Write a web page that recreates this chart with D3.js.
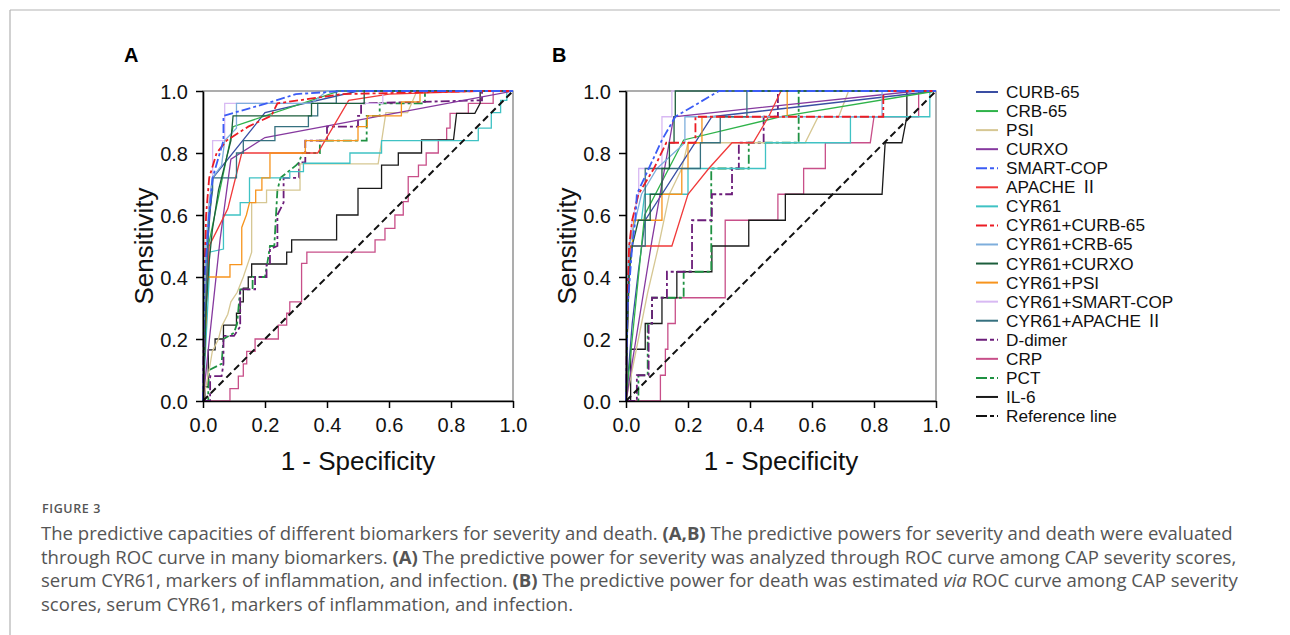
<!DOCTYPE html>
<html><head><meta charset="utf-8">
<script src="https://cdn.jsdelivr.net/npm/d3@7"></script>
<style>
html,body{margin:0;padding:0;background:#fff;}
svg{display:block;}
</style></head>
<body>
<svg id="chart" width="1290" height="635"></svg>
<script>
// ---------------- DATA ----------------
const seriesNames = ["CURB-65","CRB-65","PSI","CURXO","SMART-COP","APACHE Ⅱ","CYR61","CYR61+CURB-65","CYR61+CRB-65","CYR61+CURXO","CYR61+PSI","CYR61+SMART-COP","CYR61+APACHE Ⅱ","D-dimer","CRP","PCT","IL-6"];
const legendNames = seriesNames.concat(["Reference line"]);
const tickValues = [0.0,0.2,0.4,0.6,0.8,1.0];
const panelLabels = ["A","B"];
const axisTitleX = "1 - Specificity";
const axisTitleY = "Sensitivity";
const referenceLine = [[0,0],[1,1]];

// Panel A (severity)  [1-specificity, sensitivity]
const A_CURB65 = [[0,0],[0.01,0.45],[0.032,0.72],[0.2,0.93],[0.5,1],[1,1]];
const A_CRB65 = [[0,0],[0.017,0.5],[0.097,0.885],[0.44,1],[1,1]];
const A_PSI = [[0,0],[0.02,0.1],[0.03,0.16],[0.05,0.2],[0.06,0.24],[0.08,0.28],[0.09,0.32],[0.11,0.35],[0.13,0.4],[0.157,0.48],[0.157,0.64],[0.205,0.64],[0.205,0.68],[0.313,0.68],[0.313,0.765],[0.565,0.765],[0.59,0.93],[0.66,0.93],[0.69,1],[1,1]];
const A_CURXO = [[0,0],[0.017,0.165],[0.055,0.52],[0.09,0.78],[0.2,0.85],[1,1]];
const A_SMARTCOP = [[0,0],[0.005,0.4],[0.02,0.6],[0.031,0.72],[0.066,0.84],[0.066,0.92],[0.205,0.96],[0.3,0.99],[0.45,1],[1,1]];
const A_APACHE = [[0,0],[0.01,0.3],[0.02,0.5],[0.05,0.56],[0.08,0.62],[0.1,0.7],[0.125,0.8],[0.37,0.8],[0.47,0.97],[0.6,0.99],[0.9,1],[1,1]];
const A_CYR61 = [[0,0],[0.005,0.1],[0.01,0.2],[0.015,0.3],[0.02,0.4],[0.02,0.48],[0.066,0.49],[0.066,0.6],[0.12,0.6],[0.12,0.64],[0.15,0.64],[0.15,0.72],[0.28,0.72],[0.28,0.74],[0.324,0.74],[0.324,0.767],[0.474,0.767],[0.474,0.8],[0.576,0.8],[0.576,0.84],[0.888,0.84],[0.888,0.88],[0.93,0.88],[0.93,0.93],[0.96,0.93],[0.96,0.97],[0.98,0.97],[0.98,1],[1,1]];
const A_CYR61_CURB65 = [[0,0],[0.005,0.4],[0.01,0.6],[0.02,0.72],[0.044,0.8],[0.076,0.84],[0.146,0.885],[0.22,0.92],[0.24,0.96],[0.45,0.99],[0.9,1],[1,1]];
const A_CYR61_CRB65 = [[0,0],[0.005,0.3],[0.01,0.5],[0.02,0.64],[0.03,0.72],[0.06,0.76],[0.07,0.84],[0.108,0.88],[0.108,0.96],[0.35,0.96],[0.4,1],[1,1]];
const A_CYR61_CURXO = [[0,0],[0.005,0.15],[0.01,0.3],[0.02,0.45],[0.03,0.55],[0.05,0.68],[0.07,0.76],[0.09,0.84],[0.097,0.92],[0.35,0.92],[0.35,0.96],[0.52,0.96],[0.52,1],[1,1]];
const A_CYR61_PSI = [[0,0],[0.005,0.2],[0.01,0.27],[0.01,0.4],[0.087,0.4],[0.087,0.44],[0.125,0.44],[0.125,0.56],[0.14,0.6],[0.15,0.64],[0.17,0.64],[0.17,0.68],[0.19,0.68],[0.19,0.72],[0.216,0.72],[0.216,0.8],[0.33,0.8],[0.33,0.84],[0.5,0.84],[0.5,0.885],[0.53,0.885],[0.53,0.92],[0.64,0.92],[0.64,0.965],[0.7,0.965],[0.7,1],[1,1]];
const A_CYR61_SMARTCOP = [[0,0],[0.005,0.3],[0.01,0.5],[0.02,0.64],[0.031,0.72],[0.031,0.84],[0.07,0.84],[0.07,0.96],[0.58,0.96],[0.58,1],[1,1]];
const A_CYR61_APACHE = [[0,0],[0.005,0.15],[0.01,0.35],[0.02,0.6],[0.031,0.68],[0.031,0.72],[0.108,0.72],[0.108,0.8],[0.13,0.8],[0.13,0.84],[0.232,0.84],[0.232,0.885],[0.34,0.885],[0.34,0.92],[0.37,0.92],[0.37,0.96],[0.43,0.96],[0.43,1],[1,1]];
const A_DDIMER = [[0,0],[0.023,0],[0.023,0.08],[0.06,0.08],[0.066,0.12],[0.066,0.21],[0.1,0.21],[0.12,0.24],[0.12,0.36],[0.168,0.36],[0.168,0.4],[0.205,0.4],[0.205,0.44],[0.216,0.44],[0.216,0.49],[0.24,0.5],[0.24,0.6],[0.26,0.64],[0.26,0.72],[0.31,0.72],[0.31,0.77],[0.33,0.77],[0.33,0.84],[0.4,0.84],[0.4,0.885],[0.5,0.885],[0.5,0.92],[0.51,0.92],[0.51,0.96],[0.9,0.97],[0.9,1],[1,1]];
const A_CRP = [[0,0],[0.087,0],[0.087,0.04],[0.114,0.04],[0.114,0.08],[0.13,0.08],[0.13,0.12],[0.141,0.12],[0.141,0.16],[0.168,0.16],[0.168,0.2],[0.243,0.2],[0.243,0.245],[0.27,0.245],[0.27,0.283],[0.28,0.283],[0.28,0.32],[0.318,0.32],[0.318,0.444],[0.335,0.444],[0.335,0.48],[0.555,0.48],[0.555,0.52],[0.587,0.52],[0.587,0.557],[0.619,0.557],[0.619,0.6],[0.646,0.6],[0.646,0.643],[0.662,0.643],[0.662,0.724],[0.695,0.724],[0.695,0.761],[0.72,0.761],[0.72,0.8],[0.759,0.8],[0.759,0.842],[0.786,0.842],[0.786,0.88],[0.797,0.88],[0.797,0.928],[0.856,0.928],[0.856,0.96],[0.936,0.96],[0.936,1],[1,1]];
const A_PCT = [[0,0],[0.017,0],[0.017,0.04],[0.02,0.1],[0.06,0.12],[0.066,0.2],[0.1,0.22],[0.11,0.25],[0.12,0.36],[0.16,0.36],[0.16,0.4],[0.2,0.4],[0.21,0.46],[0.216,0.5],[0.23,0.5],[0.24,0.68],[0.25,0.72],[0.3,0.76],[0.31,0.77],[0.32,0.8],[0.377,0.8],[0.377,0.84],[0.528,0.84],[0.528,0.92],[0.57,0.92],[0.57,0.96],[0.716,0.96],[0.716,1],[1,1]];
const A_IL6 = [[0,0],[0.006,0],[0.006,0.046],[0.017,0.046],[0.017,0.165],[0.039,0.165],[0.039,0.2],[0.066,0.2],[0.066,0.245],[0.108,0.245],[0.108,0.283],[0.12,0.283],[0.12,0.32],[0.13,0.32],[0.13,0.364],[0.146,0.364],[0.146,0.4],[0.157,0.4],[0.157,0.442],[0.27,0.442],[0.27,0.48],[0.286,0.48],[0.286,0.52],[0.431,0.52],[0.431,0.6],[0.5,0.6],[0.5,0.686],[0.576,0.686],[0.576,0.761],[0.63,0.761],[0.63,0.8],[0.705,0.8],[0.705,0.842],[0.808,0.842],[0.818,0.928],[0.877,0.928],[0.894,0.96],[0.894,1],[1,1]];

// Panel B (death)
const B_CURB65 = [[0,0],[0.02,0.25],[0.04,0.42],[0.062,0.583],[0.277,0.917],[1,1]];
const B_CRB65 = [[0,0],[0.03,0.3],[0.06,0.6],[0.186,0.842],[0.5,0.917],[1,1]];
const B_PSI = [[0,0],[0.03,0.15],[0.07,0.35],[0.105,0.5],[0.14,0.667],[0.18,0.75],[0.2,0.833],[0.578,0.833],[0.62,0.917],[0.686,0.917],[0.718,1],[1,1]];
const B_CURXO = [[0,0],[0.084,0.52],[0.154,0.917],[0.94,1],[1,1]];
const B_SMARTCOP = [[0,0],[0.005,0.3],[0.02,0.5],[0.03,0.583],[0.035,0.667],[0.116,0.842],[0.159,0.917],[0.3,1],[1,1]];
const B_APACHE = [[0,0],[0.005,0.25],[0.014,0.5],[0.148,0.5],[0.2,0.667],[0.267,0.75],[0.342,0.833],[0.41,0.833],[0.46,0.917],[0.5,1],[1,1]];
const B_CYR61 = [[0,0],[0.005,0.25],[0.01,0.5],[0.03,0.583],[0.05,0.583],[0.06,0.667],[0.2,0.667],[0.2,0.75],[0.45,0.75],[0.45,0.833],[0.724,0.833],[0.724,0.917],[0.98,0.917],[0.98,1],[1,1]];
const B_CYR61_CURB65 = [[0,0],[0.005,0.33],[0.01,0.5],[0.02,0.583],[0.04,0.667],[0.09,0.75],[0.13,0.833],[0.224,0.833],[0.224,0.917],[0.83,0.917],[0.83,1],[1,1]];
const B_CYR61_CRB65 = [[0,0],[0.005,0.3],[0.01,0.5],[0.03,0.583],[0.05,0.667],[0.1,0.75],[0.19,0.833],[0.19,0.917],[0.826,0.917],[0.826,1],[1,1]];
const B_CYR61_CURXO = [[0,0],[0.005,0.25],[0.01,0.417],[0.02,0.5],[0.04,0.583],[0.078,0.583],[0.078,0.667],[0.116,0.667],[0.116,0.75],[0.14,0.75],[0.14,0.833],[0.155,0.833],[0.155,0.917],[0.159,0.917],[0.159,1],[1,1]];
const B_CYR61_PSI = [[0,0],[0.005,0.25],[0.01,0.417],[0.02,0.5],[0.025,0.583],[0.116,0.583],[0.116,0.667],[0.18,0.667],[0.18,0.75],[0.2,0.75],[0.2,0.833],[0.245,0.833],[0.245,0.917],[0.52,0.917],[0.52,1],[1,1]];
const B_CYR61_SMARTCOP = [[0,0],[0.005,0.33],[0.01,0.5],[0.02,0.583],[0.041,0.667],[0.041,0.75],[0.116,0.75],[0.116,0.917],[0.148,0.917],[0.148,1],[1,1]];
const B_CYR61_APACHE = [[0,0],[0.005,0.25],[0.01,0.42],[0.02,0.5],[0.062,0.5],[0.062,0.75],[0.24,0.75],[0.24,0.833],[0.304,0.833],[0.304,0.917],[0.39,0.917],[0.39,1],[1,1]];
const B_DDIMER = [[0,0],[0.035,0],[0.035,0.083],[0.073,0.083],[0.073,0.25],[0.084,0.25],[0.084,0.333],[0.132,0.333],[0.132,0.417],[0.213,0.417],[0.213,0.583],[0.277,0.583],[0.277,0.667],[0.342,0.667],[0.342,0.75],[0.364,0.75],[0.364,0.833],[0.444,0.833],[0.444,0.917],[0.49,0.917],[0.49,1],[1,1]];
const B_CRP = [[0,0],[0.111,0],[0.111,0.083],[0.127,0.083],[0.127,0.167],[0.135,0.167],[0.135,0.25],[0.159,0.25],[0.159,0.333],[0.32,0.333],[0.32,0.583],[0.49,0.583],[0.49,0.667],[0.573,0.667],[0.573,0.75],[0.643,0.75],[0.643,0.833],[0.788,0.833],[0.8,0.917],[0.944,0.917],[0.944,1],[1,1]];
const B_PCT = [[0,0],[0.04,0],[0.04,0.083],[0.07,0.083],[0.07,0.25],[0.084,0.25],[0.084,0.333],[0.186,0.333],[0.186,0.417],[0.275,0.417],[0.275,0.75],[0.396,0.75],[0.396,0.833],[0.557,0.833],[0.557,1],[1,1]];
const B_IL6 = [[0,0],[0.015,0],[0.015,0.167],[0.062,0.167],[0.062,0.25],[0.116,0.25],[0.116,0.333],[0.164,0.333],[0.164,0.417],[0.277,0.417],[0.277,0.5],[0.396,0.5],[0.396,0.583],[0.514,0.583],[0.514,0.667],[0.826,0.667],[0.836,0.833],[0.89,0.833],[0.906,0.917],[0.906,1],[1,1]];

const panelAData = [A_CURB65,A_CRB65,A_PSI,A_CURXO,A_SMARTCOP,A_APACHE,A_CYR61,A_CYR61_CURB65,A_CYR61_CRB65,A_CYR61_CURXO,A_CYR61_PSI,A_CYR61_SMARTCOP,A_CYR61_APACHE,A_DDIMER,A_CRP,A_PCT,A_IL6];
const panelBData = [B_CURB65,B_CRB65,B_PSI,B_CURXO,B_SMARTCOP,B_APACHE,B_CYR61,B_CYR61_CURB65,B_CYR61_CRB65,B_CYR61_CURXO,B_CYR61_PSI,B_CYR61_SMARTCOP,B_CYR61_APACHE,B_DDIMER,B_CRP,B_PCT,B_IL6];

const captionTitle = "FIGURE 3";
const captionLines = [
  [["The predictive capacities of different biomarkers for severity and death. ",""],["(A,B)","b"],[" The predictive powers for severity and death were evaluated",""]],
  [["through ROC curve in many biomarkers. ",""],["(A)","b"],[" The predictive power for severity was analyzed through ROC curve among CAP severity scores,",""]],
  [["serum CYR61, markers of inflammation, and infection. ",""],["(B)","b"],[" The predictive power for death was estimated ",""],["via","i"],[" ROC curve among CAP severity",""]],
  [["scores, serum CYR61, markers of inflammation, and infection.",""]]
];

// ---------------- STYLES ----------------
const colors = {
  "CURB-65":"#3a4ea3","CRB-65":"#2fb34a","PSI":"#d6c793","CURXO":"#86399f","SMART-COP":"#3b5cf5",
  "APACHE Ⅱ":"#f03a3a","CYR61":"#3fc2c4","CYR61+CURB-65":"#ec1c24","CYR61+CRB-65":"#7eaedc",
  "CYR61+CURXO":"#1c5e3c","CYR61+PSI":"#f7941d","CYR61+SMART-COP":"#d8b9f3","CYR61+APACHE Ⅱ":"#35707f",
  "D-dimer":"#6c1d7a","CRP":"#c84f89","PCT":"#1f9142","IL-6":"#1a1a1a","Reference line":"#111"
};
const dashed = {"SMART-COP":"9,3,3,3","CYR61+CURB-65":"9,3,3,3","D-dimer":"9,3,3,3","PCT":"9,3,3,3","Reference line":"7,4"};
const drawOrder = [14,16,15,13,2,6,0,1,3,5,10,11,8,12,9,7,4];

const FONT = "'Liberation Sans', Arial, sans-serif";
const LEGFONT = "'Liberation Sans', 'Noto Sans CJK SC', sans-serif";
const svg = d3.select("#chart");

// outer frame
svg.append("line").attr("x1",10).attr("y1",10).attr("x2",1280).attr("y2",10).attr("stroke","#b3b3b3").attr("stroke-width",1.2);
svg.append("line").attr("x1",10).attr("y1",10).attr("x2",10).attr("y2",635).attr("stroke","#b3b3b3").attr("stroke-width",1.2);

const panels = [
  {x0:203, x1:513, data:panelAData, label:panelLabels[0], lx:124},
  {x0:626, x1:936, data:panelBData, label:panelLabels[1], lx:552}
];
const yTop = 91, yBot = 401;

panels.forEach(p => {
  const x = d3.scaleLinear().domain([0,1]).range([p.x0,p.x1]);
  const y = d3.scaleLinear().domain([0,1]).range([yBot,yTop]);
  const g = svg.append("g");
  g.append("rect").attr("x",p.x0).attr("y",yTop).attr("width",p.x1-p.x0).attr("height",yBot-yTop)
    .attr("fill","none").attr("stroke","#777").attr("stroke-width",1.2);
  const line = d3.line().x(d=>x(d[0])).y(d=>y(d[1]));
  drawOrder.forEach(i => {
    const name = seriesNames[i];
    g.append("path").attr("d",line(p.data[i])).attr("fill","none")
      .attr("stroke",colors[name]).attr("stroke-width", dashed[name]?1.8:1.3)
      .attr("stroke-dasharray",dashed[name]||null).attr("stroke-linejoin","miter");
  });
  g.append("path").attr("d",line(referenceLine)).attr("fill","none").attr("stroke","#111")
    .attr("stroke-width",2).attr("stroke-dasharray",dashed["Reference line"]);

  const fmt = d3.format(".1f");
  const ax = g.append("g").attr("transform",`translate(0,${yBot})`)
    .call(d3.axisBottom(x).tickValues(tickValues).tickFormat(fmt).tickSize(7).tickSizeOuter(0));
  const ay = g.append("g").attr("transform",`translate(${p.x0},0)`)
    .call(d3.axisLeft(y).tickValues(tickValues).tickFormat(fmt).tickSize(7).tickSizeOuter(0));
  [ax,ay].forEach(a=>{
    a.select(".domain").attr("stroke","#000").attr("stroke-width",1.6);
    a.selectAll(".tick line").attr("stroke","#000").attr("stroke-width",1.5);
    a.selectAll(".tick text").attr("font-family",FONT).attr("font-size",20).attr("fill","#111");
  });
  ax.selectAll(".tick text").attr("dy","0.72em").attr("y",17);
  ay.selectAll(".tick text").attr("x",-15).attr("dy","0.35em");

  g.append("text").attr("x",(p.x0+p.x1)/2).attr("y",470).attr("text-anchor","middle")
    .attr("font-family",FONT).attr("font-size",26).attr("fill","#111").text(axisTitleX);
  g.append("text").attr("transform",`translate(${p.x0-50},${(yTop+yBot)/2}) rotate(-90)`)
    .attr("text-anchor","middle").attr("font-family",FONT).attr("font-size",26).attr("fill","#111").text(axisTitleY);
  g.append("text").attr("x",p.lx).attr("y",62).attr("font-family",FONT).attr("font-weight","bold")
    .attr("font-size",20).attr("fill","#000").text(p.label);
});

// legend
const leg = svg.append("g");
legendNames.forEach((name,i) => {
  const yy = 92 + i*19.06;
  leg.append("line").attr("x1",976).attr("x2",998).attr("y1",yy).attr("y2",yy)
    .attr("stroke",colors[name]).attr("stroke-width",2)
    .attr("stroke-dasharray", dashed[name] ? "11,3,4,3" : null);
  leg.append("text").attr("x",1006).attr("y",yy+6).attr("font-family",LEGFONT).attr("font-size",17.2)
    .attr("fill","#111").text(name);
});

// caption
const CAPFONT = "'Open Sans', 'Noto Sans', sans-serif";
svg.append("text").attr("x",42).attr("y",513).attr("font-family",CAPFONT).attr("font-weight",600)
  .attr("font-size",12.5).attr("letter-spacing",0.6).attr("fill","#555").text(captionTitle);
const capG = svg.append("g");
const capTexts = captionLines.map((segs,i) => {
  const t = capG.append("text").attr("x",41).attr("y",540 + i*23.5).attr("font-family",CAPFONT)
    .attr("font-size",16).attr("fill","#555");
  segs.forEach(s => {
    const ts = t.append("tspan").text(s[0]);
    if (s[1]==="b") ts.attr("font-weight","bold");
    if (s[1]==="i") ts.attr("font-style","italic");
  });
  return t;
});
const w0 = capTexts[0].node().getComputedTextLength();
const fs = 16 * (1193 / w0);
capTexts.forEach(t => t.attr("font-size", fs));
</script>
</body></html>
